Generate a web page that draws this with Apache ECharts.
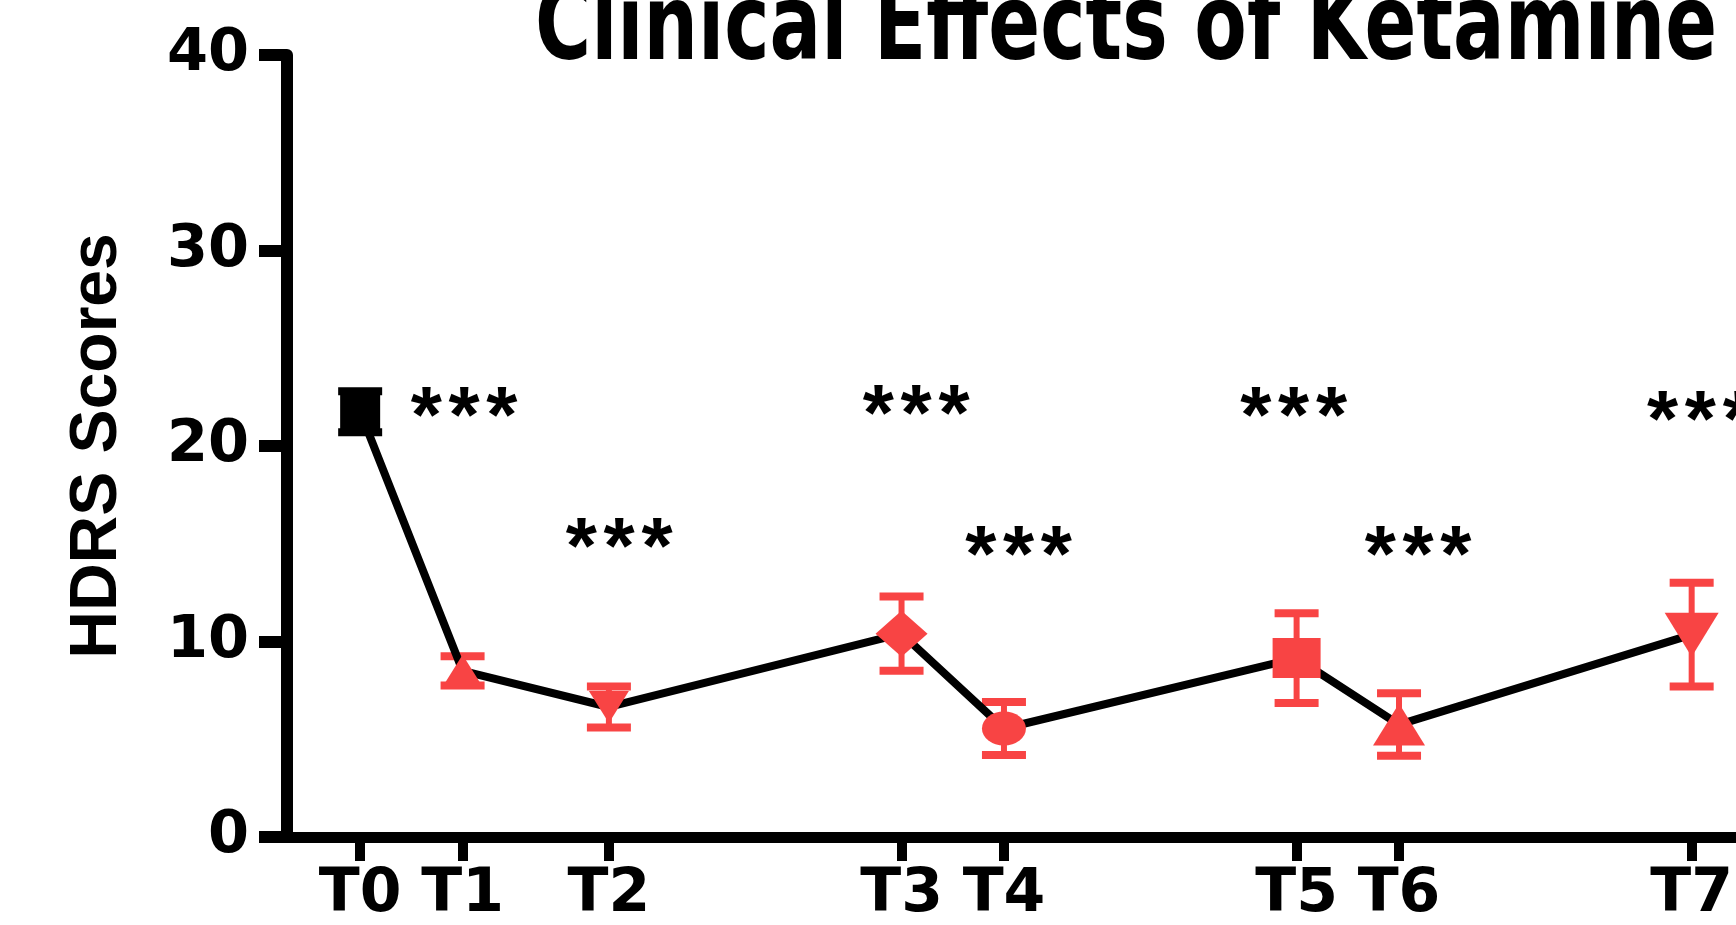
<!DOCTYPE html>
<html>
<head>
<meta charset="utf-8">
<script src="https://cdn.jsdelivr.net/npm/echarts@6/dist/echarts.min.js"></script>
<style>
  html, body { margin: 0; padding: 0; background: #ffffff; }
  #chart { width: 1736px; height: 925px; }
</style>
</head>
<body>
<div id="chart"></div>
<script>
// ---- data ----
var titleText = 'Clinical Effects of Ketamine';
var timeLabels = ['T0', 'T1', 'T2', 'T3', 'T4', 'T5', 'T6', 'T7'];
var timeValues = [0, 7, 17, 37, 44, 64, 71, 91];
var meanScores = [21.75, 8.5, 6.65, 10.4, 5.55, 9.15, 5.75, 10.35];
var semScores  = [1.05, 0.75, 1.05, 1.9, 1.35, 2.3, 1.6, 2.65];
var yTicks = [0, 10, 20, 30, 40];
var sigX = [7.1, 17.7, 38.0, 45.0, 63.8, 72.3, 91.6];
var sigY = [22.3, 15.6, 22.4, 15.2, 22.3, 15.2, 22.1];

// ---- styles ----
var RED = '#F84444';
var BLACK = '#000000';
var shapes  = ['rect', 'triangle', 'triangle', 'diamond', 'circle', 'rect', 'triangle', 'triangle'];
var rotates = [0, 0, 180, 0, 0, 0, 0, 180];
var sizes   = [[40, 36], [40, 32], [40, 32], [52, 46], [44, 34], [48, 40], [52, 42], [54, 44]];

var chart = echarts.init(document.getElementById('chart'), null, { renderer: 'canvas' });

var lineData = timeValues.map(function (x, i) {
  return {
    value: [x, meanScores[i]],
    symbol: shapes[i],
    symbolSize: sizes[i],
    symbolRotate: rotates[i],
    itemStyle: { color: i === 0 ? BLACK : RED }
  };
});
var errData = timeValues.map(function (x, i) { return [x, meanScores[i], semScores[i]]; });
var sigData = sigX.map(function (x, i) { return [x, sigY[i]]; });

var option = {
  animation: false,
  backgroundColor: '#ffffff',
  graphic: [
    {
      type: 'text',
      x: 535,
      y: -21,
      scaleX: 0.81,
      scaleY: 1,
      silent: true,
      style: {
        text: titleText,
        fill: '#000',
        fontFamily: '"DejaVu Sans Condensed", "DejaVu Sans", sans-serif',
        fontWeight: 'bold',
        fontSize: 105,
        align: 'left',
        verticalAlign: 'top'
      }
    }
  ],
  grid: {
    left: 287,
    top: 55,
    right: 0,
    height: 782,
    containLabel: false
  },
  xAxis: {
    type: 'value',
    min: -5,
    max: 94,
    splitLine: { show: false },
    axisLine: { show: true, onZero: false, lineStyle: { color: '#000', width: 11 } },
    axisTick: {
      show: true,
      customValues: timeValues,
      length: 24,
      lineStyle: { color: '#000', width: 10 }
    },
    axisLabel: {
      show: true,
      customValues: timeValues,
      margin: 28,
      color: '#000',
      fontFamily: '"DejaVu Sans", sans-serif',
      fontWeight: 'bold',
      fontSize: 60,
      formatter: function (v) {
        var idx = timeValues.indexOf(v);
        return idx >= 0 ? timeLabels[idx] : '';
      }
    }
  },
  yAxis: {
    type: 'value',
    min: 0,
    max: 40,
    interval: 10,
    name: 'HDRS Scores',
    nameLocation: 'middle',
    nameGap: 156,
    nameTextStyle: {
      color: '#000',
      fontFamily: '"Liberation Sans", Arial, sans-serif',
      fontWeight: 'bold',
      fontSize: 66
    },
    splitLine: { show: false },
    axisLine: { show: true, onZero: false, lineStyle: { color: '#000', width: 12 } },
    axisTick: {
      show: true,
      customValues: yTicks,
      length: 28,
      lineStyle: { color: '#000', width: 12 }
    },
    axisLabel: {
      show: true,
      customValues: yTicks,
      margin: 38,
      color: '#000',
      fontFamily: '"DejaVu Sans", sans-serif',
      fontWeight: 'bold',
      fontSize: 59
    }
  },
  series: [
    {
      type: 'custom',
      name: 'SEM',
      z: 2,
      data: errData,
      renderItem: function (params, api) {
        var x = api.value(0), m = api.value(1), e = api.value(2);
        var top = api.coord([x, m + e]);
        var bot = api.coord([x, m - e]);
        var col = params.dataIndex === 0 ? BLACK : RED;
        var half = 22;
        return {
          type: 'group',
          children: [
            { type: 'line', shape: { x1: top[0], y1: top[1], x2: bot[0], y2: bot[1] }, style: { stroke: col, lineWidth: 6 } },
            { type: 'line', shape: { x1: top[0] - half, y1: top[1], x2: top[0] + half, y2: top[1] }, style: { stroke: col, lineWidth: 8 } },
            { type: 'line', shape: { x1: bot[0] - half, y1: bot[1], x2: bot[0] + half, y2: bot[1] }, style: { stroke: col, lineWidth: 8 } }
          ]
        };
      }
    },
    {
      type: 'line',
      name: 'HDRS',
      z: 3,
      data: lineData,
      showAllSymbol: true,
      lineStyle: { color: '#000', width: 8 },
      itemStyle: { borderWidth: 0 },
      emphasis: { disabled: true }
    },
    {
      type: 'scatter',
      name: 'significance',
      z: 4,
      data: sigData,
      symbolSize: 1,
      itemStyle: { color: 'rgba(255,255,255,0)' },
      emphasis: { disabled: true },
      label: {
        show: true,
        position: 'inside',
        formatter: function () { return '*\u200A*\u200A*'; },
        color: '#000000',
        opacity: 1,
        textBorderWidth: 0,
        textBorderColor: 'transparent',
        fontFamily: '"Liberation Sans", Arial, sans-serif',
        fontWeight: 'bold',
        fontSize: 80,
        offset: [0, 19]
      }
    }
  ]
};

chart.setOption(option);
</script>
</body>
</html>
